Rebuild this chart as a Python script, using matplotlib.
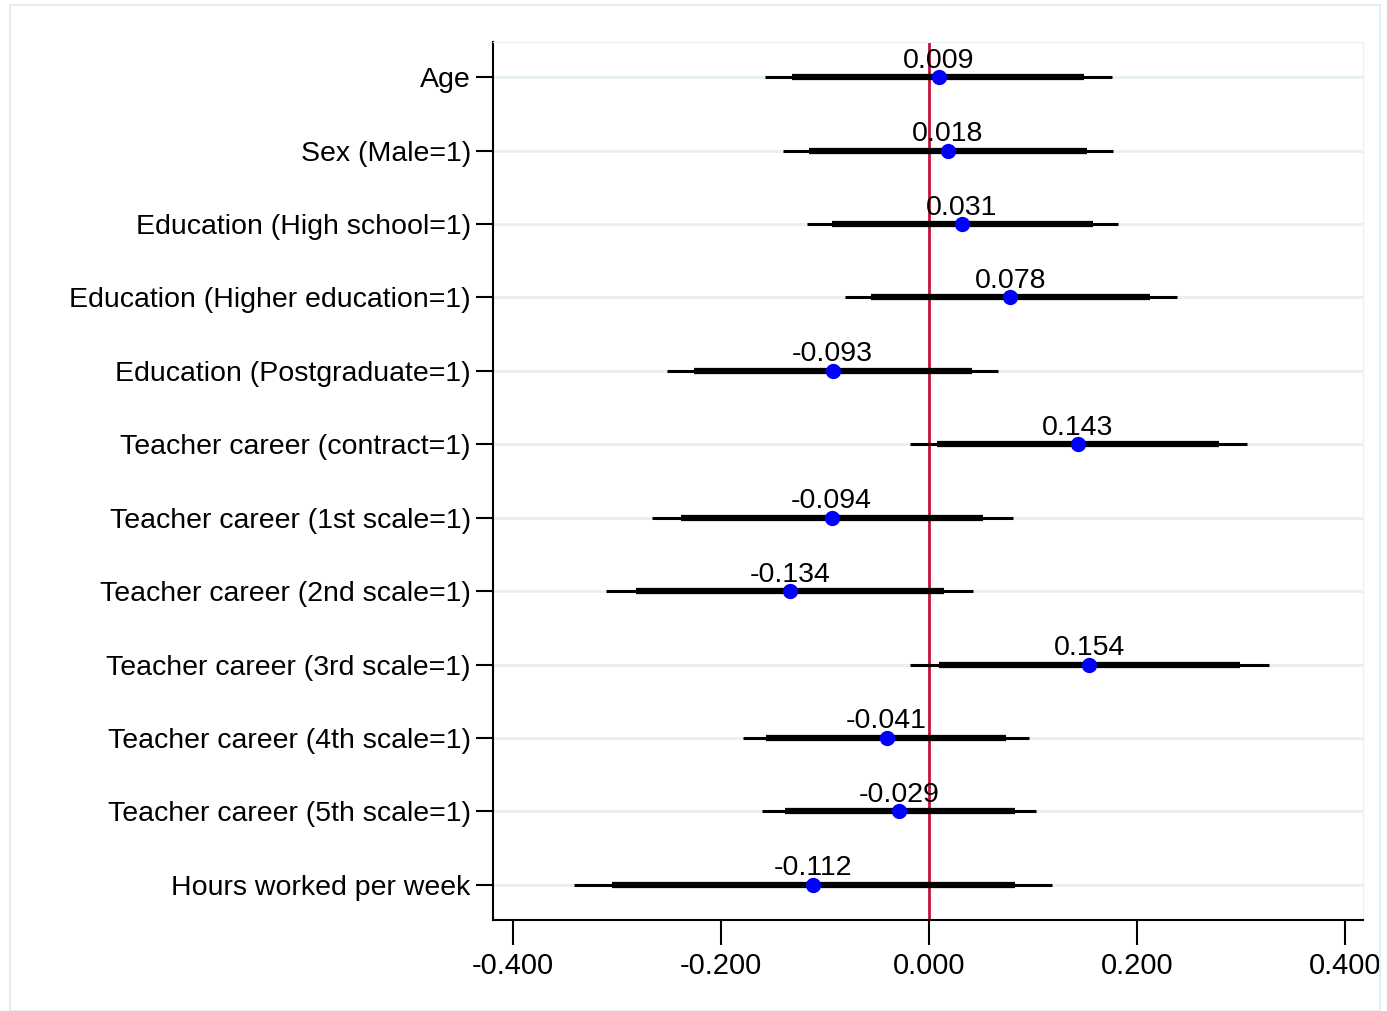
import matplotlib.pyplot as plt
from matplotlib.patches import Rectangle

plt.rcParams["font.family"] = ["Liberation Sans", "DejaVu Sans"]

# coefficient estimates with 90% (thick) and 95% (thin) intervals
labels = [
    "Age",
    "Sex (Male=1)",
    "Education (High school=1)",
    "Education (Higher education=1)",
    "Education (Postgraduate=1)",
    "Teacher career (contract=1)",
    "Teacher career (1st scale=1)",
    "Teacher career (2nd scale=1)",
    "Teacher career (3rd scale=1)",
    "Teacher career (4th scale=1)",
    "Teacher career (5th scale=1)",
    "Hours worked per week",
]
coef = [0.009, 0.018, 0.031, 0.078, -0.093, 0.143, -0.094, -0.134, 0.154, -0.041, -0.029, -0.112]
ci95_lo = [-0.158, -0.141, -0.118, -0.081, -0.252, -0.019, -0.267, -0.311, -0.019, -0.179, -0.161, -0.342]
ci95_hi = [0.176, 0.177, 0.181, 0.238, 0.066, 0.305, 0.080, 0.042, 0.327, 0.096, 0.103, 0.118]
ci90_lo = [-0.132, -0.116, -0.094, -0.056, -0.226, 0.007, -0.239, -0.282, 0.009, -0.157, -0.139, -0.305]
ci90_hi = [0.149, 0.152, 0.157, 0.212, 0.041, 0.279, 0.052, 0.014, 0.299, 0.074, 0.082, 0.082]
xticks = [-0.4, -0.2, 0.0, 0.2, 0.4]

fig = plt.figure(figsize=(13.87, 10.11), dpi=100)
ax = fig.add_axes([493 / 1387, 1 - 920 / 1011, (1363 - 493) / 1387, (920 - 42) / 1011])

fig.patches.append(Rectangle((10 / 1387, 0), 1370 / 1387, 1 - 5 / 1011,
                             transform=fig.transFigure, fill=False,
                             edgecolor="#e6eef0", linewidth=1.5))

ypos = list(range(len(labels)))
for y in ypos:
    ax.axhline(y, color="#e8f0f1", lw=2, zorder=0)

ax.axvline(0, color="#c0143c", lw=2, zorder=1)

ax.hlines(ypos, ci95_lo, ci95_hi, color="black", lw=2.2, zorder=2)
ax.hlines(ypos, ci90_lo, ci90_hi, color="black", lw=4.5, zorder=3)
ax.plot(coef, ypos, "o", color="#0000ff", ms=10, zorder=4)

for c, y in zip(coef, ypos):
    ax.text(c, y - 0.13, f"{c:.3f}", ha="center", va="baseline", fontsize=20.5, zorder=5)

ax.set_xlim(-0.4195, 0.417)
ax.set_ylim(11.48, -0.48)
ax.set_yticks(ypos)
ax.set_yticklabels(labels, fontsize=20.5)
ax.set_xticks(xticks)
ax.set_xticklabels([f"{t:.3f}" for t in xticks], fontsize=21)
ax.tick_params(axis="y", length=12, width=1.5, pad=4)
ax.tick_params(axis="x", length=18, width=1.5, pad=5)

ax.spines["top"].set_color("#e8f0f1")
ax.spines["right"].set_color("#e8f0f1")
ax.spines["left"].set_linewidth(1.5)
ax.spines["bottom"].set_linewidth(1.5)

fig.savefig("out.png", dpi=100)
